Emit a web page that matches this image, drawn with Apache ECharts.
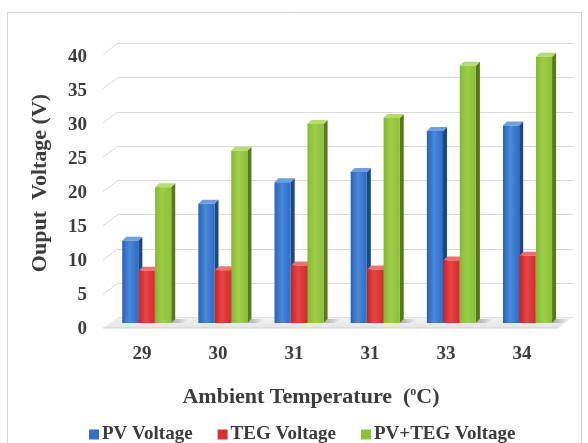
<!DOCTYPE html>
<html>
<head>
<meta charset="utf-8">
<script src="https://cdn.jsdelivr.net/npm/echarts@6/dist/echarts.min.js"></script>
<style>
  html, body { margin: 0; padding: 0; background: #ffffff; }
  #chart { width: 588px; height: 443px; }
</style>
</head>
<body>
<div id="chart"></div>
<script>
// Ambient temperature categories (°C)
const temperatures = ['29', '30', '31', '31', '33', '34'];
// Output voltages (V)
const pvVoltage     = [12.0, 17.4, 20.5, 22.0, 28.0, 28.8];
const tegVoltage    = [7.6, 7.7, 8.4, 7.8, 9.1, 9.8];
const pvTegVoltage  = [19.8, 25.1, 29.0, 29.9, 37.5, 38.8];
// Value axis ticks
const yTicks = [0, 5, 10, 15, 20, 25, 30, 35, 40];

const FONT = '"Liberation Serif", "Times New Roman", serif';
const TEXT = '#3c3c3c';

// Face colours for the pseudo-3D columns: [front-left, front-mid, front-right, side, top]
const palettes = [
  ['#2a62b4', '#4a88da', '#2f6cc2', '#1b4782', '#6d9ee0'],
  ['#c92525', '#e84444', '#d22c2c', '#8e1616', '#ef7070'],
  ['#86b932', '#9ccd48', '#8cc03a', '#55791c', '#b5dc6c']
];
const legendColors = ['#3170c6', '#d93030', '#8fc23c'];

const DEPTH = 4; // oblique depth of each column in px

function columnRenderer(slot) {
  return function (params, api) {
    const ci = api.value(0);
    const v = api.value(1);
    const base = api.coord([ci, 0]);
    const top = api.coord([ci, v]);
    const band = api.size([1, 0])[0];
    const w = band * 0.212;
    const step = band * 0.216;
    const x0 = base[0] - band * 0.34 + slot * step;
    const yb = base[1];
    const yt = top[1];
    const d = DEPTH;
    const p = palettes[slot];
    const children = [];
    if (slot === 2) {
      // soft shadow cast on the floor behind the group
      children.push({
        type: 'polygon',
        shape: { points: [[x0 + w, yb], [x0 + w + d, yb - d], [x0 + w + d + 14, yb - d], [x0 + w + 10, yb]] },
        style: {
          fill: new echarts.graphic.LinearGradient(0, 0, 1, 0, [
            { offset: 0, color: 'rgba(0,0,0,0.28)' },
            { offset: 1, color: 'rgba(0,0,0,0)' }
          ])
        }
      });
    }
    children.push({
      type: 'polygon',
      shape: { points: [[x0 + w, yt], [x0 + w + d, yt - d], [x0 + w + d, yb - d], [x0 + w, yb]] },
      style: { fill: p[3] }
    });
    children.push({
      type: 'polygon',
      shape: { points: [[x0, yt], [x0 + d, yt - d], [x0 + w + d, yt - d], [x0 + w, yt]] },
      style: { fill: p[4] }
    });
    children.push({
      type: 'rect',
      shape: { x: x0, y: yt, width: w, height: yb - yt },
      style: {
        fill: new echarts.graphic.LinearGradient(0, 0, 1, 0, [
          { offset: 0, color: p[0] },
          { offset: 0.45, color: p[1] },
          { offset: 1, color: p[2] }
        ])
      }
    });
    return { type: 'group', children: children };
  };
}

// Diagonal stubs where the back-wall gridlines meet the side wall
function gridStub(params, api) {
  const v = api.value(0);
  const p = api.coord([0, v]);
  return {
    type: 'line',
    shape: { x1: p[0], y1: p[1], x2: p[0] - 15, y2: p[1] + 11 },
    style: { stroke: '#d9d9d9', lineWidth: 1 }
  };
}

// Floor plane of the plot area
function floorPlane(params, api) {
  const bl = api.coord([0, 0]);
  const br = api.coord([1, 0]);
  return {
    type: 'group',
    children: [
      {
        type: 'polygon',
        shape: { points: [bl, br, [br[0] - 15, br[1] + 10.5], [bl[0] - 15, bl[1] + 10.5]] },
        style: {
          fill: new echarts.graphic.LinearGradient(0, 0, 0, 1, [
            { offset: 0, color: '#f3f3f3' },
            { offset: 1, color: '#e4e4e4' }
          ])
        }
      },
      {
        type: 'line',
        shape: { x1: bl[0] - 15, y1: bl[1] + 10.5, x2: br[0] - 15, y2: br[1] + 10.5 },
        style: { stroke: '#d2d2d2', lineWidth: 1 }
      },
      {
        type: 'line',
        shape: { x1: bl[0], y1: bl[1], x2: br[0], y2: br[1] },
        style: { stroke: '#e2e2e2', lineWidth: 1 }
      }
    ]
  };
}

const chart = echarts.init(document.getElementById('chart'), null, { renderer: 'canvas' });

const seriesDefs = [
  { name: 'PV Voltage', data: pvVoltage },
  { name: 'TEG Voltage', data: tegVoltage },
  { name: 'PV+TEG Voltage', data: pvTegVoltage }
];

chart.setOption({
  animation: false,
  backgroundColor: '#ffffff',
  grid: [
    // back wall
    { left: 118, right: 15, top: 43.3, bottom: 125.5 },
    // column plane
    { left: 110, right: 21, top: 48.6, bottom: 120 },
    // front plane carrying the tick labels
    { left: 104, right: 28, top: 57, bottom: 114 }
  ],
  xAxis: [
    { gridIndex: 0, type: 'value', min: 0, max: 1, show: false },
    { gridIndex: 1, type: 'category', data: temperatures, show: false },
    {
      gridIndex: 2, type: 'category', data: temperatures,
      axisLine: { show: false }, axisTick: { show: false },
      axisLabel: { margin: 16, fontFamily: FONT, fontWeight: 'bold', fontSize: 19, color: TEXT }
    }
  ],
  yAxis: [
    {
      gridIndex: 0, type: 'value', min: 0, max: 40, interval: 5,
      axisLine: { show: false }, axisTick: { show: false }, axisLabel: { show: false },
      splitLine: { show: true, lineStyle: { color: '#dadada', width: 1 } }
    },
    { gridIndex: 1, type: 'value', min: 0, max: 40, interval: 5, show: false, splitLine: { show: false } },
    {
      gridIndex: 2, type: 'value', min: 0, max: 40, interval: 5,
      axisLine: { show: false }, axisTick: { show: false }, splitLine: { show: false },
      axisLabel: { margin: 17, fontFamily: FONT, fontWeight: 'bold', fontSize: 19, color: TEXT }
    }
  ],
  legend: {
    left: 84, top: 420,
    itemWidth: 10, itemHeight: 10, itemGap: 25,
    icon: 'rect',
    textStyle: { fontFamily: FONT, fontWeight: 'bold', fontSize: 19, color: TEXT, padding: [0, 0, 0, -2] },
    data: seriesDefs.map(s => s.name)
  },
  graphic: [
    {
      type: 'rect', z: -10, silent: true,
      shape: { x: 7.5, y: 12.5, width: 574, height: 450 },
      style: { fill: '#ffffff', stroke: '#d3d3d3', lineWidth: 1 }
    },
    {
      type: 'text', silent: true,
      x: 311, y: 397,
      style: {
        align: 'center', verticalAlign: 'middle',
        text: 'Ambient Temperature  ({s|o}C)',
        font: 'bold 22px ' + FONT, fill: TEXT,
        rich: { s: { fontFamily: FONT, fontWeight: 'bold', fontSize: 12, verticalAlign: 'top', padding: [0, 0, 8, 0], fill: TEXT } }
      }
    },
    {
      type: 'text', silent: true,
      x: 40, y: 183, rotation: Math.PI / 2,
      style: {
        align: 'center', verticalAlign: 'middle',
        text: 'Ouput  Voltage (V)',
        font: 'bold 22px ' + FONT, fill: TEXT
      }
    }
  ],
  series: [
    {
      type: 'custom', name: 'floor', xAxisIndex: 0, yAxisIndex: 0, silent: true, z: 1,
      renderItem: floorPlane, data: [[0]], encode: { x: -1, y: 0 }
    },
    {
      type: 'custom', name: 'gridStubs', xAxisIndex: 0, yAxisIndex: 0, silent: true, z: 1,
      renderItem: gridStub, data: yTicks.slice(1).map(v => [v]), encode: { x: -1, y: 0 }
    }
  ].concat(seriesDefs.map((s, i) => ({
    type: 'custom',
    name: s.name,
    xAxisIndex: 1, yAxisIndex: 1, z: 2,
    itemStyle: { color: legendColors[i] },
    renderItem: columnRenderer(i),
    encode: { x: 0, y: 1 },
    data: s.data.map((v, k) => [k, v])
  })))
});
</script>
</body>
</html>
